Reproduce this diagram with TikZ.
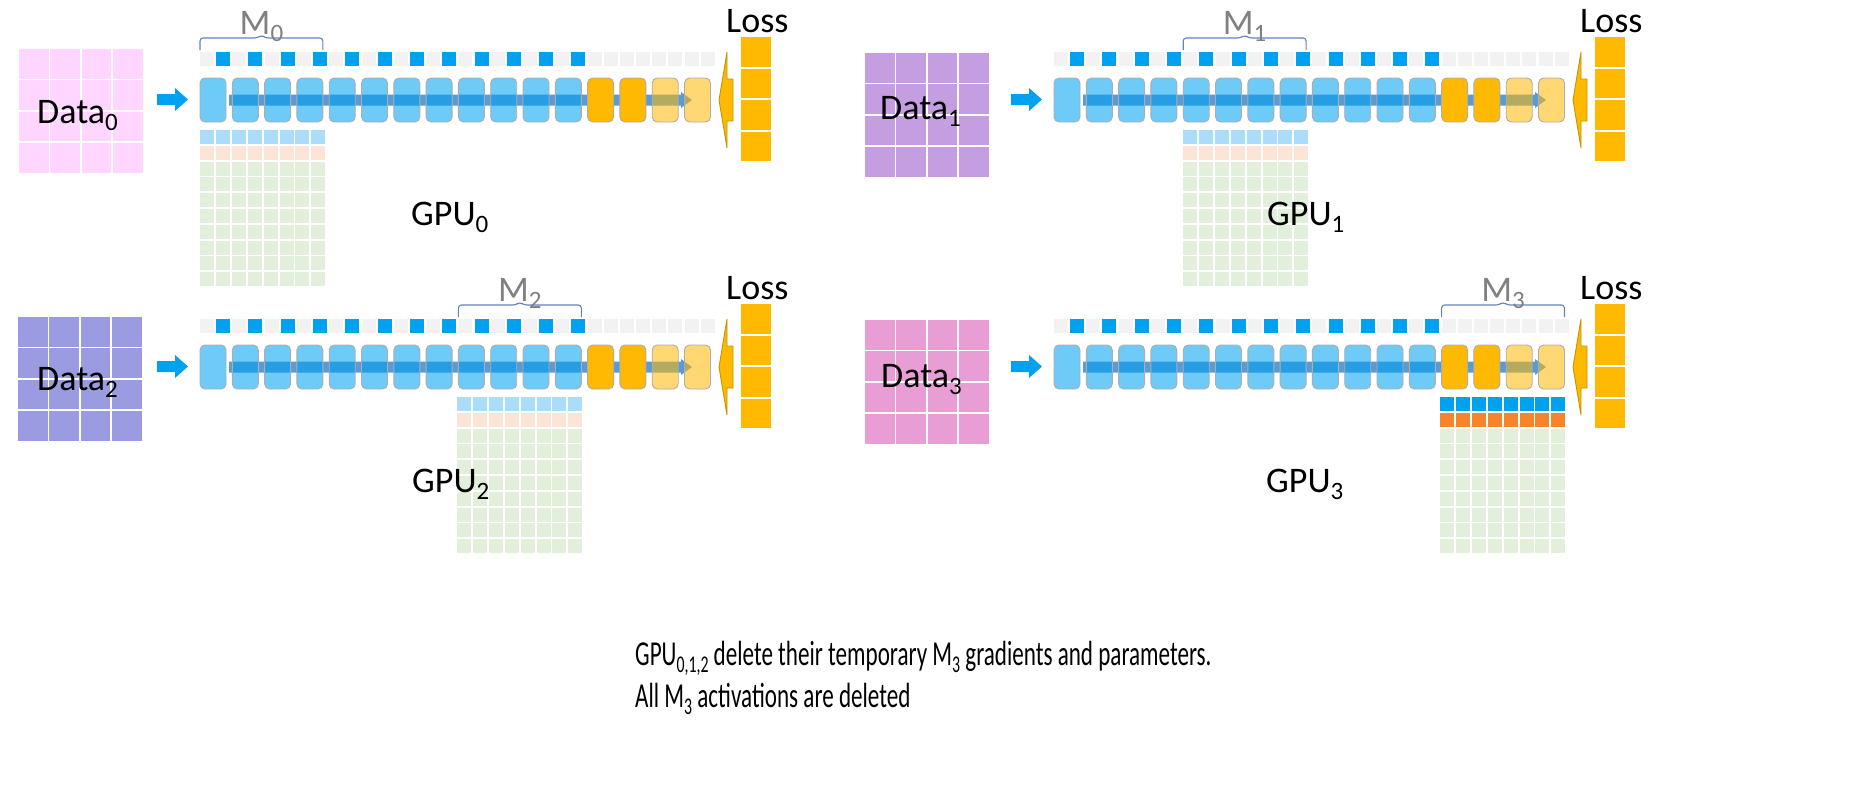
\documentclass[tikz,border=0pt]{standalone}
\usepackage{fontspec}
\setmainfont{Carlito}
% subscripts for the large labels and for the note text
\newcommand\subA[1]{\raisebox{-7pt}{\fontsize{25}{25}\selectfont #1}}
\newcommand\subB[1]{\raisebox{-7pt}{\fontsize{24}{24}\selectfont #1}}
% the note is set in a narrowed face
\newcommand\narrow[1]{\scalebox{0.66}[1]{#1}}

\definecolor{cblue}{RGB}{0,162,240}
\definecolor{sgray}{RGB}{242,242,242}
\definecolor{corange}{RGB}{255,185,0}
\definecolor{flowc}{RGB}{91,155,213}
\definecolor{mgray}{RGB}{128,128,128}
\definecolor{bracec}{RGB}{100,130,190}
\definecolor{pgreen}{RGB}{226,239,218}
\definecolor{pblue}{RGB}{171,221,251}
\definecolor{psalmon}{RGB}{252,228,214}
\definecolor{porange}{RGB}{245,132,45}
\definecolor{dpink}{RGB}{255,214,255}
\definecolor{dlav}{RGB}{196,158,224}
\definecolor{dperi}{RGB}{155,155,226}
\definecolor{dmag}{RGB}{232,157,213}
\definecolor{arrowedge}{RGB}{196,148,0}

\tikzset{
  lbl/.style={inner sep=0, anchor=base west, font=\fontsize{36}{40}\selectfont},
  note/.style={inner sep=0, anchor=base west, font=\fontsize{35}{40}\selectfont},
  mlbl/.style={inner sep=0, anchor=base, text=mgray, font=\fontsize{36}{40}\selectfont},
  layer/.style={rounded corners=5, draw=black!32, line width=0.9},
  bracket/.style={draw=bracec, line width=1.1, rounded corners=3},
  backarrow/.style={fill=corange, draw=arrowedge, line width=0.9, line join=miter},
}

% 4x4 input data grid
\newcommand\datagrid[3]{%
  \foreach \c in {0,...,3}{\foreach \r in {0,...,3}{%
    \fill[#3] ({#1+31.4*\c},{#2+31.4*\r}) rectangle ++(29.5,29.5);}}}

% 8x10 grid: one row of parameters, one of gradients, eight of optimizer state
\newcommand\paramgrid[4]{%
  \foreach \c in {0,...,7}{%
    \fill[#3] ({#1+15.9*\c},#2) rectangle ++(14,14);
    \fill[#4] ({#1+15.9*\c},{#2+15.8}) rectangle ++(14,14);
    \foreach \r in {2,...,9}{\fill[pgreen] ({#1+15.9*\c},{#2+15.8*\r}) rectangle ++(14,14);}}}

% one GPU pipeline: #1,#2 shift, #3 index of the owned block of layers
\newcommand\pipeline[3]{%
\begin{scope}[shift={(#1,#2)}]
  % forward flow arrow, seen through the translucent layers
  \fill[flowc] (229,94.5) -- (681,94.5) -- (681,92) -- (692,100) -- (681,108)
    -- (681,105.5) -- (229,105.5) -- cycle;
  % strip of per-layer parameter slots
  \foreach \j in {0,...,31}{%
    \def\fc{sgray}%
    \ifodd\j \ifnum\j<24 \def\fc{cblue}\fi\fi
    \fill[\fc] ({200+16.15*\j},52) rectangle ++(14,14);}
  % layers
  \foreach \k in {0,...,15}{%
    \def\fc{cblue}\def\fo{0.57}%
    \ifnum\k>11 \def\fc{corange}\def\fo{1}\fi
    \ifnum\k>13 \def\fc{corange}\def\fo{0.55}\fi
    \draw[layer, fill=\fc, fill opacity=\fo] ({200+32.3*\k},78) rectangle ++(26,44);}
  % input arrow
  \fill[cblue] (157,94) -- (175,94) -- (175,88) -- (188,99.5) -- (175,111)
    -- (175,105) -- (157,105) -- cycle;
  % loss column and backward arrow
  \foreach \i in {0,...,3}{\fill[corange] (741,{37+31.5*\i}) rectangle ++(30,29.5);}
  \node[lbl] (loss#3) at (726,32) {Loss};
  \draw[backarrow] (719,100) -- (727,52) -- (727,79) -- (733,79) -- (733,121)
    -- (727,121) -- (727,148) -- cycle;
  % bracket over the owned block M_#3
  \pgfmathsetmacro\bx{200+129.2*#3}
  \pgfmathsetmacro\bm{\bx+61.45}
  \pgfmathsetmacro\be{\bx+122.9}
  \draw[bracket] (\bx,50) -- (\bx,38) -- (\bm-4,38) -- (\bm,35) -- (\bm+4,38)
    -- (\be,38) -- (\be,50);
  \node[mlbl] (m#3) at (\bm,34) {M\subA{#3}};
\end{scope}}

\begin{document}
\begin{tikzpicture}[x=1pt,y=-1pt]
\fill[white] (0,0) rectangle (1853,790);
\useasboundingbox (0,0) rectangle (1853,790);

% GPU 0
\datagrid{19}{49}{dpink}
\pipeline{0}{0}{0}
\paramgrid{200}{130}{pblue}{psalmon}
\node[lbl] (d0) at (37,123) {Data\subA{0}};
\node[lbl] (g0) at (411,225) {GPU\subA{0}};

% GPU 1
\datagrid{865}{53}{dlav}
\pipeline{854}{0}{1}
\paramgrid{1183}{130}{pblue}{psalmon}
\node[lbl] (d1) at (880,119) {Data\subA{1}};
\node[lbl] (g1) at (1267,225) {GPU\subA{1}};

% GPU 2
\datagrid{18}{317}{dperi}
\pipeline{0}{267}{2}
\paramgrid{457}{397}{pblue}{psalmon}
\node[lbl] (d2) at (37,390) {Data\subA{2}};
\node[lbl] (g2) at (412,492) {GPU\subA{2}};

% GPU 3
\datagrid{865}{320}{dmag}
\pipeline{854}{267}{3}
\paramgrid{1440}{397}{cblue}{porange}
\node[lbl] (d3) at (881,387) {Data\subA{3}};
\node[lbl] (g3) at (1266,492) {GPU\subA{3}};

% note
\node[note] (n1) at (635,665) {\narrow{GPU\subB{0,1,2} delete their temporary M\subB{3} gradients and parameters.}};
\node[note] (n2) at (635,707) {\narrow{All M\subB{3} activations are deleted}};
\end{tikzpicture}
\end{document}
